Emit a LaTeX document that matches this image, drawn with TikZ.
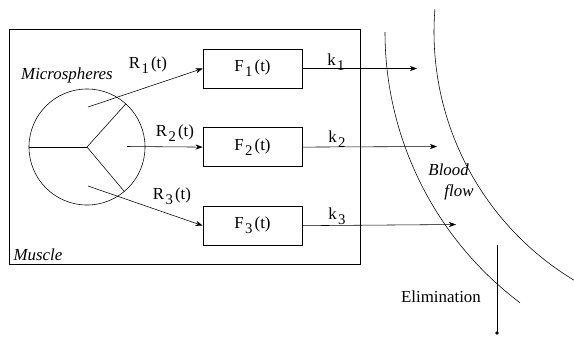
\documentclass[tikz,border=0pt]{standalone}
\usepackage{fontspec}
\setmainfont{Liberation Serif}
\usetikzlibrary{arrows.meta, positioning}
\newcommand{\idx}[1]{\kern1pt\raisebox{-0.65ex}{\fontsize{10.5}{12}\selectfont#1}\kern1.5pt}

\begin{document}
\begin{tikzpicture}[
        x=0.025cm, y=0.025cm,
        node distance=0.975cm,
        every node/.style={font=\fontsize{12}{15}\selectfont},
        comp/.style={rectangle, draw=black, minimum width=2.475cm, minimum height=0.975cm, inner sep=0pt},
        lbl/.style={inner sep=1pt},
        itl/.style={inner sep=1pt, font=\fontsize{12}{15}\selectfont\itshape},
        arr/.style={-{Stealth[length=1.8mm, width=1.3mm]}, thin}
    ]
    \useasboundingbox (0,0) rectangle (574,-338);

    % Muscle compartment
    \draw (9,-29) rectangle (360,-264);
    \node[itl, anchor=west] (mus) at (12,-255) {Muscle};
    \node[itl] (msl) at (67,-75) {Microspheres};

    % microsphere pool
    \node[circle, draw, minimum size=2.9cm, inner sep=0pt] (ms) at (87,-147) {};
    \draw (ms.west) -- (ms.center);
    \draw (ms.center) -- (ms.48);
    \draw (ms.center) -- (ms.-50);

    \node[comp] (F1) at (252.5,-68.5) {F\idx{1}(t)};
    \node[comp, below=of F1] (F2) {F\idx{2}(t)};
    \node[comp, below=of F2] (F3) {F\idx{3}(t)};

    \coordinate (r1) at (88,-107);
    \coordinate (r2) at (127,-146.5);
    \coordinate (r3) at (88,-186);
    \draw[arr] (r1) -- (F1.west);
    \draw[arr] (r2) -- (F2.west);
    \draw[arr] (r3) -- (F3.west);
    \node[lbl] (R1) at (148,-65) {R\idx{1}(t)};
    \node[lbl] (R2) at (175,-133) {R\idx{2}(t)};
    \node[lbl] (R3) at (172,-196) {R\idx{3}(t)};

    % release into blood
    \coordinate (b1) at (417,-68.5);
    \coordinate (b2) at (437,-146.5);
    \coordinate (b3) at (456,-224.5);
    \draw[arr] (F1.east) -- (b1);
    \draw[arr] (F2.east) -- (b2);
    \draw[arr] (F3.east) -- (b3);
    \node[lbl] (k1) at (337,-62) {k\idx{1}};
    \node[lbl] (k2) at (338,-139) {k\idx{2}};
    \node[lbl] (k3) at (338,-216) {k\idx{3}};

    % vessel
    \draw (724,-32) ++(180:339) arc[start angle=180, end angle=233, radius=339];
    \draw (724,-32) ++(175.5:290) arc[start angle=175.5, end angle=239, radius=290];
    \node[itl, align=left] (bf) at (451,-182) {Blood\\\hspace*{4mm}flow};

    \coordinate (e1) at (497,-245);
    \coordinate (e2) at (497,-333);
    \draw (e1) -- (e2);
    \fill (e2) circle (1.3pt);
    \node[lbl] (el) at (441,-297) {Elimination};
\end{tikzpicture}
\end{document}
